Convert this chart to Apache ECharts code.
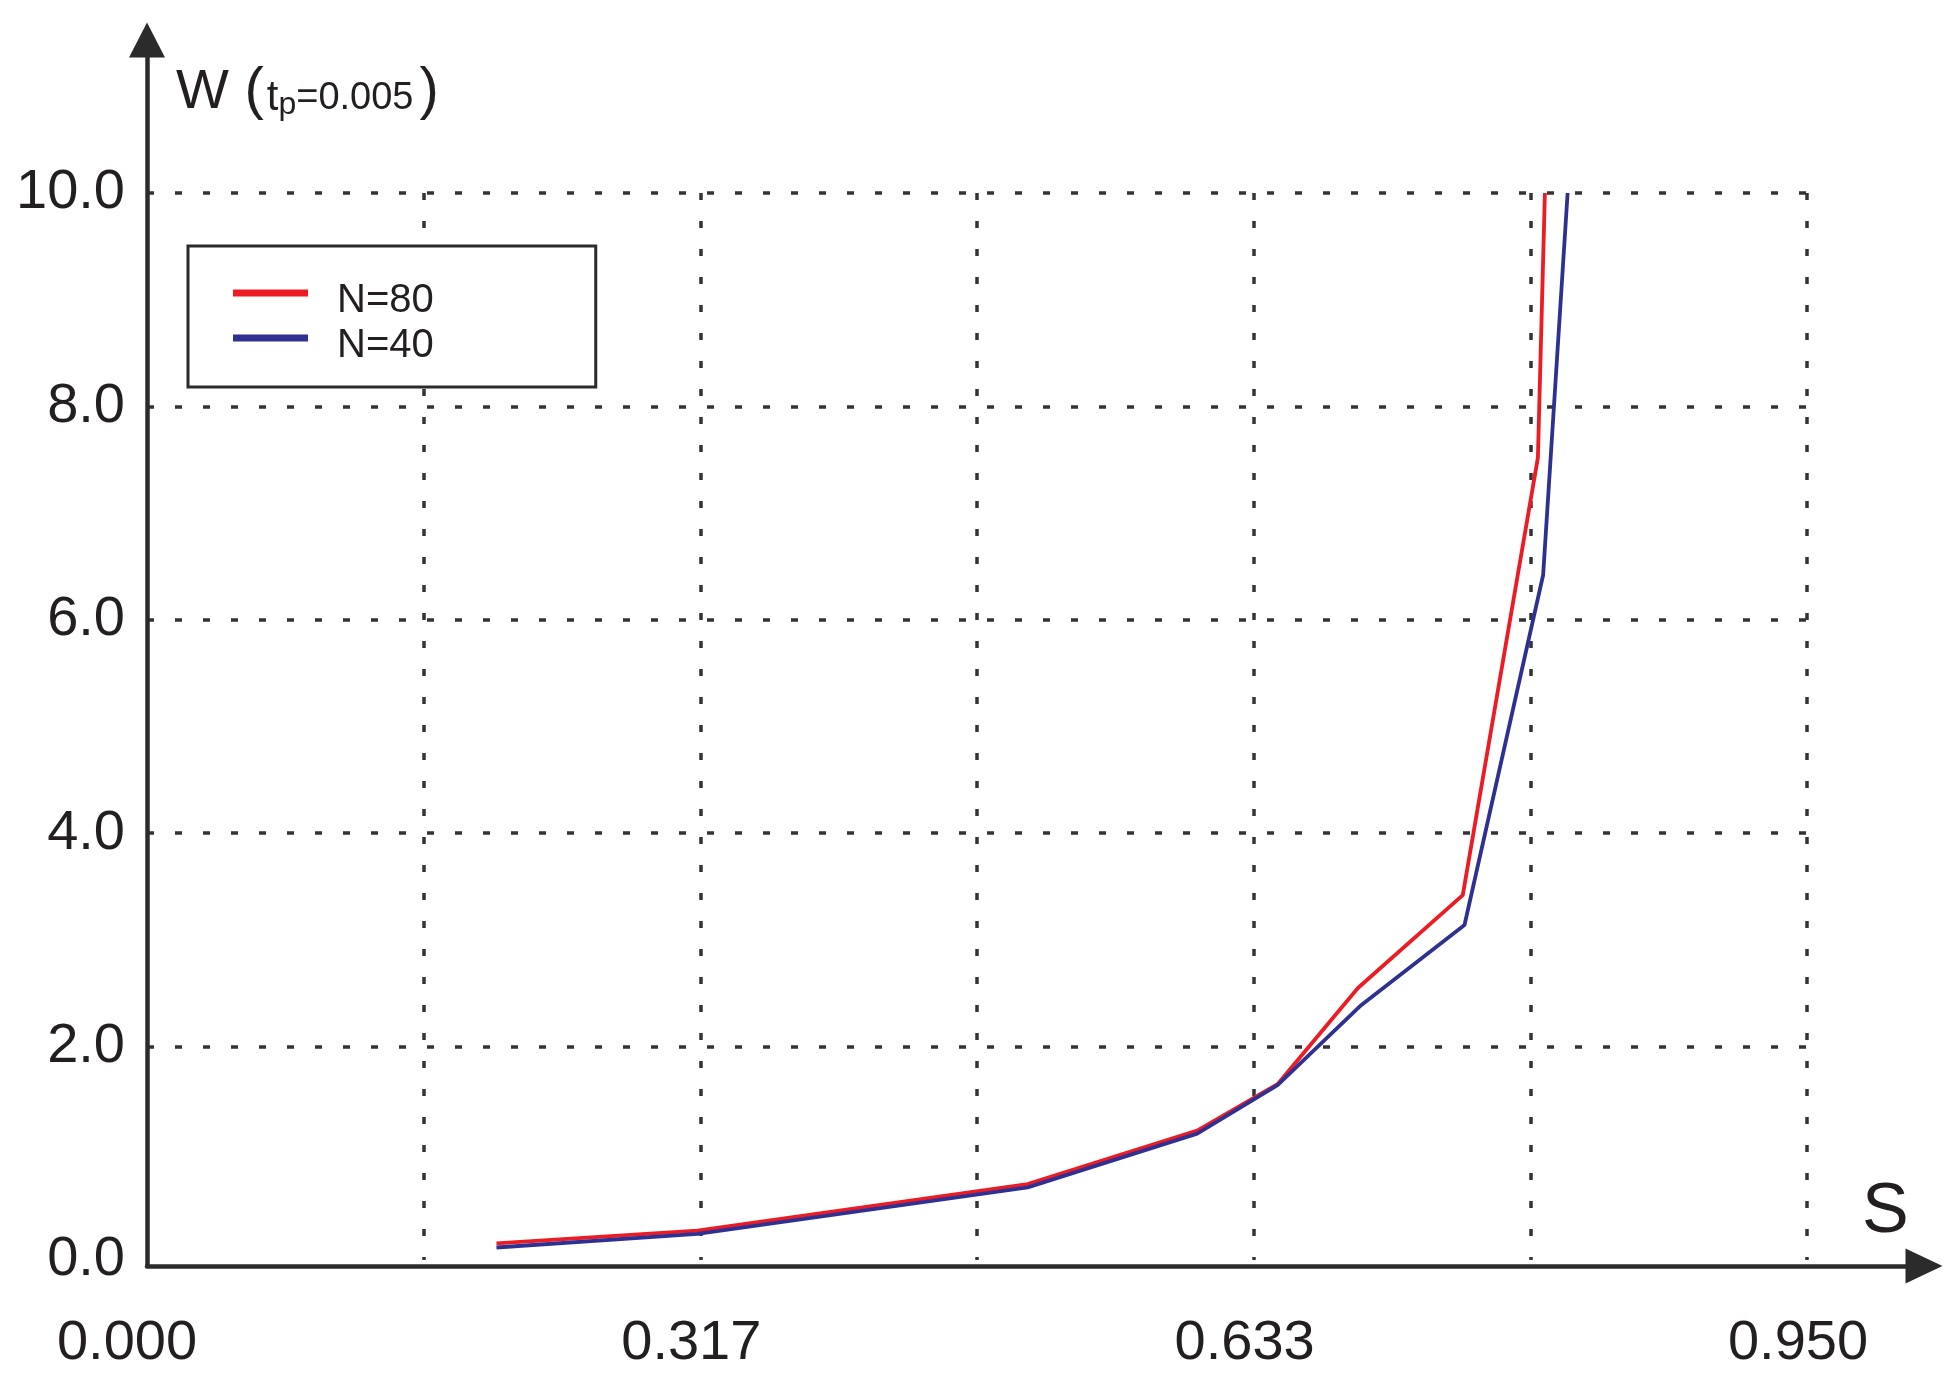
<!DOCTYPE html>
<html>
<head>
<meta charset="utf-8">
<title>W vs S</title>
<script src="https://cdn.jsdelivr.net/npm/echarts@6/dist/echarts.min.js"></script>
<style>
  html, body { margin: 0; padding: 0; background: #fff; }
  #chart { width: 1956px; height: 1389px; }
</style>
</head>
<body>
<div id="chart"></div>
<script>
// values
const sN80 = [0.200, 0.315, 0.504, 0.601, 0.647, 0.693, 0.753, 0.796, 0.800];
const wN80 = [0.155, 0.275, 0.712, 1.212, 1.647, 2.549, 3.42, 7.52, 10.0];
const sN40 = [0.200, 0.315, 0.504, 0.601, 0.647, 0.695, 0.754, 0.799, 0.813];
const wN40 = [0.117, 0.244, 0.681, 1.184, 1.64, 2.39, 3.14, 6.42, 10.0];
const xTickLabels = ['0.000', '0.317', '0.633', '0.950'];
const xMax = 0.95;
const xStep = xMax / 6;

const FONT = 'Liberation Sans';
const INK = '#231f20';
const AXIS = '#2b2b2b';
const gridDash = { color: '#333', width: 3.5, type: [7, 21] };

const chart = echarts.init(document.getElementById('chart'));

const pairs = (xs, ys) => xs.map((x, i) => [x, ys[i]]);

chart.setOption({
  animation: false,
  textStyle: { fontFamily: FONT, color: INK },
  grid: [
    // plotting area
    { left: 147, right: 149, top: 193, bottom: 129, outerBoundsMode: 'none' },
    // frame for the arrowed axes
    { left: 147, right: 32, top: 40, bottom: 123, outerBoundsMode: 'none' }
  ],
  legend: {
    left: 188, top: 246,
    orient: 'vertical',
    icon: 'rect',
    itemWidth: 75, itemHeight: 7, itemGap: 5,
    backgroundColor: '#fff',
    borderColor: AXIS, borderWidth: 3,
    padding: [35, 162, 21, 45],
    formatter: '{n|{name}}',
    textStyle: {
      fontFamily: FONT, fontSize: 40, color: INK,
      rich: { n: { fontFamily: FONT, fontSize: 40, color: INK, padding: [16, 0, 0, 24] } }
    },
    data: ['N=80', 'N=40']
  },
  xAxis: [
    {
      gridIndex: 0, type: 'value', min: 0, max: xMax, interval: xStep, offset: 6,
      axisLine: { show: false }, axisTick: { show: false },
      splitLine: { show: true, showMinLine: false, lineStyle: gridDash },
      axisLabel: {
        margin: 50, fontSize: 56, color: INK, fontFamily: FONT,
        formatter: (v) => {
          const k = Math.round(v / xStep);
          if (k % 2) return '';
          const i = k / 2;
          return (i === 0 ? '{a|' : '{b|') + xTickLabels[i] + '}';
        },
        rich: {
          a: { fontSize: 56, fontFamily: FONT, color: INK, padding: [0, 40, 0, 0] },
          b: { fontSize: 56, fontFamily: FONT, color: INK, padding: [0, 18, 0, 0] }
        }
      },
      name: 'S', nameLocation: 'end', nameGap: 55, nameMoveOverlap: false,
      nameTextStyle: { fontSize: 70, fontFamily: FONT, color: INK, align: 'left', verticalAlign: 'bottom', lineHeight: 70, padding: [0, 0, 12, 0] }
    },
    {
      gridIndex: 1, type: 'value', min: 0, max: 1,
      axisLine: { show: true, symbol: ['none', 'triangle'], symbolSize: [35, 37], lineStyle: { color: AXIS, width: 4.5 } },
      axisTick: { show: false }, axisLabel: { show: false }, splitLine: { show: false }
    }
  ],
  yAxis: [
    {
      gridIndex: 0, type: 'value', min: 0, max: 10, interval: 2,
      axisLine: { show: false }, axisTick: { show: false },
      splitLine: { show: true, showMinLine: false, lineStyle: gridDash },
      axisLabel: { margin: 22, fontSize: 56, color: INK, fontFamily: FONT, formatter: (v) => v.toFixed(1) },
      name: '{w|W }{br|(}{t|t}{p|p}{v|=0.005}{br2|)}',
      nameLocation: 'end', nameGap: 72, nameMoveOverlap: false,
      nameTextStyle: {
        align: 'left', verticalAlign: 'bottom', padding: [0, 0, 0, 29],
        rich: {
          w: { fontSize: 56, lineHeight: 56, fontFamily: FONT, color: INK, verticalAlign: 'bottom' },
          br: { fontSize: 58, lineHeight: 58, fontFamily: FONT, color: INK, verticalAlign: 'bottom' },
          br2: { fontSize: 58, lineHeight: 58, fontFamily: FONT, color: INK, verticalAlign: 'bottom', padding: [0, 0, 0, 6] },
          t: { fontSize: 42, lineHeight: 42, fontFamily: FONT, color: INK, verticalAlign: 'bottom', padding: [0, 0, 2, 3] },
          p: { fontSize: 32, lineHeight: 32, fontFamily: FONT, color: INK, verticalAlign: 'bottom' },
          v: { fontSize: 38, lineHeight: 38, fontFamily: FONT, color: INK, verticalAlign: 'bottom', padding: [0, 0, 3, 0] }
        }
      }
    },
    {
      gridIndex: 1, type: 'value', min: 0, max: 1,
      axisLine: { show: true, symbol: ['none', 'triangle'], symbolSize: [36, 35], lineStyle: { color: AXIS, width: 4.5 } },
      axisTick: { show: false }, axisLabel: { show: false }, splitLine: { show: false }
    }
  ],
  series: [
    {
      name: 'N=80', type: 'line', xAxisIndex: 0, yAxisIndex: 0,
      symbol: 'none', color: '#ed1c24',
      lineStyle: { width: 3.8 },
      data: pairs(sN80, wN80)
    },
    {
      name: 'N=40', type: 'line', xAxisIndex: 0, yAxisIndex: 0,
      symbol: 'none', color: '#2e3192',
      lineStyle: { width: 3.8 },
      data: pairs(sN40, wN40)
    }
  ]
});
</script>
</body>
</html>
